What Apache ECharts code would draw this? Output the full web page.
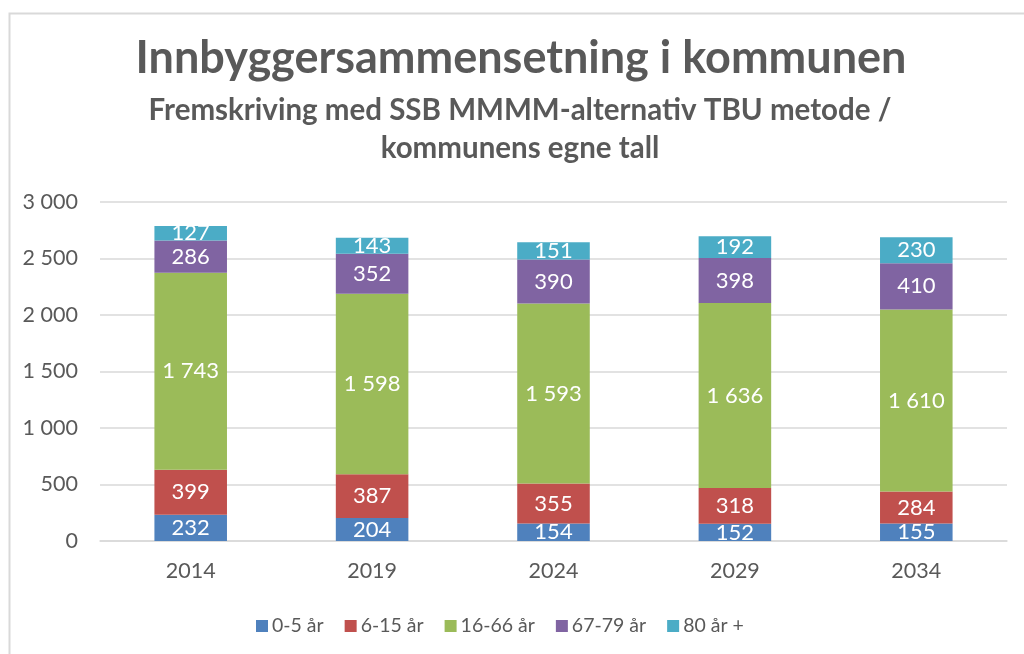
<!DOCTYPE html>
<html>
<head>
<meta charset="utf-8">
<style>
  html, body { margin: 0; padding: 0; background: #fff; }
  #chart { width: 1024px; height: 654px; }
</style>
<script src="https://cdn.jsdelivr.net/npm/echarts@6/dist/echarts.min.js"></script>
</head>
<body>
<div id="chart"></div>
<script>
// data
const years = ["2014", "2019", "2024", "2029", "2034"];
const seriesNames = ["0-5 år", "6-15 år", "16-66 år", "67-79 år", "80 år +"];
const age0to5 = [232, 204, 154, 152, 155];
const age6to15 = [399, 387, 355, 318, 284];
const age16to66 = [1743, 1598, 1593, 1636, 1610];
const age67to79 = [286, 352, 390, 398, 410];
const age80plus = [127, 143, 151, 192, 230];
const colors = ["#4F81BD", "#C0504D", "#9BBB59", "#8064A2", "#4BACC6"];

const font = "Lato, 'Open Sans', sans-serif";

function spaced(v) {
  return String(v).replace(/\B(?=(\d{3})+(?!\d))/g, " ");
}

const chart = echarts.init(document.getElementById("chart"));

const allValues = [age0to5, age6to15, age16to66, age67to79, age80plus];

chart.setOption({
  animation: false,
  color: colors,
  textStyle: { fontFamily: font },
  graphic: [{
    type: "rect",
    left: 7,
    top: 11,
    shape: { width: 1100, height: 700 },
    style: { fill: "none", stroke: "#d9d9d9", lineWidth: 2 },
    silent: true
  }],
  title: [
    {
      text: "Innbyggersammensetning i kommunen",
      left: 521,
      textAlign: "center",
      top: 36,
      padding: 0,
      textStyle: { fontFamily: font, fontSize: 45, fontWeight: "bold", color: "#595959" }
    },
    {
      text: "Fremskriving med SSB MMMM-alternativ TBU metode /\nkommunens egne tall",
      left: 520,
      textAlign: "center",
      top: 91,
      padding: 0,
      textStyle: { fontFamily: font, fontSize: 29.5, fontWeight: "bold", color: "#595959", lineHeight: 38 }
    }
  ],
  legend: {
    data: seriesNames,
    bottom: 13,
    left: 251,
    itemWidth: 12,
    itemHeight: 12,
    itemGap: 21,
    icon: "rect",
    textStyle: { fontFamily: font, fontSize: 19.5, color: "#595959", padding: [0, 0, 0, -1] }
  },
  grid: { left: 100, right: 17, top: 202, bottom: 113 },
  xAxis: {
    type: "category",
    data: years,
    axisLine: { lineStyle: { color: "#d9d9d9", width: 1.5 } },
    axisTick: { show: false },
    axisLabel: { fontFamily: font, fontSize: 21.5, color: "#595959", margin: 19 }
  },
  yAxis: {
    type: "value",
    min: 0,
    max: 3000,
    interval: 500,
    axisLine: { show: false },
    axisTick: { show: false },
    splitLine: { lineStyle: { color: "#d9d9d9", width: 1.5 } },
    axisLabel: { fontFamily: font, fontSize: 21.5, color: "#595959", margin: 22, formatter: v => spaced(v) }
  },
  series: seriesNames.map((name, i) => ({
    name: name,
    type: "bar",
    stack: "total",
    barWidth: "40%",
    data: allValues[i],
    label: {
      show: true,
      position: "inside",
      color: "#fff",
      fontFamily: font,
      fontSize: 22,
      formatter: p => spaced(p.value)
    }
  }))
});
</script>
</body>
</html>
